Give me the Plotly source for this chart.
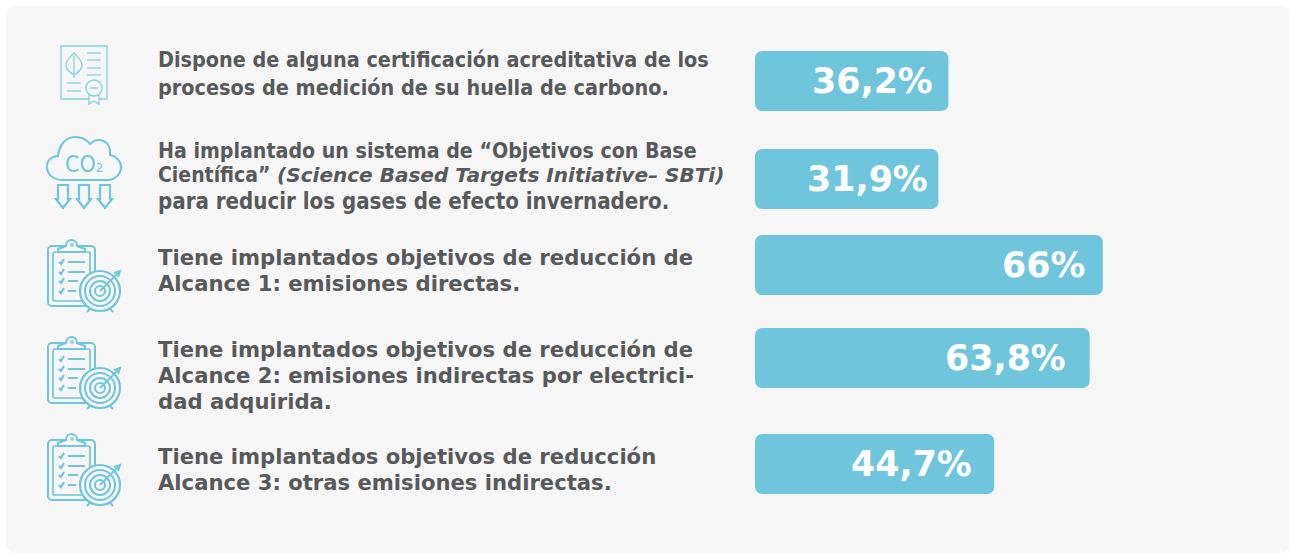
import plotly.graph_objects as go

labels = ["36,2%", "31,9%", "66%", "63,8%", "44,7%"]
bar_lengths = [36.7, 34.8, 66.0, 63.5, 45.4]
texts = [
    ["Dispone de alguna certificación acreditativa de los", "procesos de medición de su huella de carbono."],
    ["Ha implantado un sistema de “Objetivos con Base",
     "Científica” <span style='font-family:DejaVu Sans;font-size:20.05px'><i>(Science Based Targets Initiative– SBTi)</i></span>",
     "para reducir los gases de efecto invernadero."],
    ["Tiene implantados objetivos de reducción de", "Alcance 1: emisiones directas."],
    ["Tiene implantados objetivos de reducción de", "Alcance 2: emisiones indirectas por electrici-", "dad adquirida."],
    ["Tiene implantados objetivos de reducción", "Alcance 3: otras emisiones indirectas."],
]

W, H = 1289, 553
BLUE = "#6fc6dc"
PALE = "#85cfe2"
GREY = "#58595b"
PANEL = "#f6f6f6"
PX_PER_UNIT = 5.27
X0 = 755
row_y = [81, 179, 265, 358, 464]
label_right = [935, 930, 1087, 1068, 974]
text_top = [[59, 87], [150, 175, 201], [257, 283], [349, 375, 401], [456, 482]]
text_family = ["DejaVu Sans Condensed", "DejaVu Sans Condensed", "DejaVu Sans", "DejaVu Sans", "DejaVu Sans"]
text_size = [[21.4, 21.45], [21.2, 21.0, 22.1], [21.15, 21.15], [21.15, 21.15, 21.15], [21.15, 21.15]]

fig = go.Figure()
fig.add_trace(go.Bar(y=row_y, x=bar_lengths, base=[0] * len(bar_lengths), orientation="h", width=60,
                     marker=dict(color=BLUE, cornerradius=7, line_width=0), hoverinfo="skip"))

ann = []
for lab, y, r, in zip(labels, row_y, label_right):
    ann.append(dict(x=(r - X0) / PX_PER_UNIT, y=y, text=lab, xref="x", yref="y", xanchor="right",
                    yanchor="middle", showarrow=False, font=dict(family="DejaVu Sans", size=34.8, color="white", weight="bold")))
for lines, tops, fam, sizes in zip(texts, text_top, text_family, text_size):
    for line, y, size in zip(lines, tops, sizes):
        ann.append(dict(x=156 / W, y=1 - y / H, text=line, xref="paper", yref="paper", xanchor="left",
                        yanchor="middle", showarrow=False, align="left",
                        font=dict(family=fam, size=size, color=GREY, weight="bold")))

shapes = []
def P(x, y):
    return f"{x/W:.5f},{1 - y/H:.5f}"
def path(cmds, width=1.6, color=BLUE, fill=None, layer="above"):
    s = ""
    for c in cmds:
        if isinstance(c, str):
            s += c + " "
        else:
            s += P(*c) + " "
    shapes.append(dict(type="path", path=s.strip(), xref="paper", yref="paper", layer=layer,
                       line=dict(color=color, width=width), fillcolor=fill or "rgba(0,0,0,0)"))

def rounded(x0, y0, x1, y1, r):
    k = 0.45 * r
    return ["M", (x0 + r, y0), "L", (x1 - r, y0), "C", (x1 - k, y0), (x1, y0 + k), (x1, y0 + r),
            "L", (x1, y1 - r), "C", (x1, y1 - k), (x1 - k, y1), (x1 - r, y1),
            "L", (x0 + r, y1), "C", (x0 + k, y1), (x0, y1 - k), (x0, y1 - r),
            "L", (x0, y0 + r), "C", (x0, y0 + k), (x0 + k, y0), (x0 + r, y0), "Z"]

def circle(cx, cy, r, w=1.6, fill=None, color=BLUE):
    shapes.append(dict(type="circle", xref="paper", yref="paper", layer="above",
                       x0=(cx - r) / W, x1=(cx + r) / W, y0=1 - (cy + r) / H, y1=1 - (cy - r) / H,
                       line=dict(color=color, width=w), fillcolor=fill or "rgba(0,0,0,0)"))

def seg(x0, y0, x1, y1, w=1.3, color=BLUE):
    path(["M", (x0, y0), "L", (x1, y1)], width=w, color=color)

# panel
path(rounded(6, 6, 1290, 553, 9), width=0, color=PANEL, fill=PANEL, layer="below")

# certificate icon
path(["M", (89, 99), "L", (61, 99), "L", (61, 46), "L", (107, 46), "L", (107, 99), "L", (99, 99)], width=1.4, color=PALE)
path(["M", (74, 53), "C", (79, 58), (82, 61), (82, 66), "C", (81, 71), (77, 73), (74, 75),
      "C", (71, 73), (67, 71), (66, 66), "C", (66, 61), (69, 58), (74, 53), "Z"], width=1.3, color=PALE)
seg(74, 55, 74, 78, color=PALE)
for y in (53, 60, 68, 75):
    seg(87, y, 101, y, color=PALE)
for y in (83, 91):
    seg(67, y, 81, y, color=PALE)
circle(94, 88, 8, 1.4, color=PALE)
seg(90, 88, 98, 88, color=PALE)
path(["M", (89, 95), "L", (89, 104), "L", (94, 101), "L", (99, 104), "L", (99, 95)], width=1.3, color=PALE)

# CO2 icon
path(["M", (62, 180), "C", (53, 180), (47, 174), (47, 167), "C", (47, 160), (52, 156), (58, 156),
      "C", (59, 146), (65, 137), (75, 137), "C", (81, 137), (87, 140), (90, 144),
      "C", (93, 141), (96, 140), (99, 140), "C", (106, 140), (111, 146), (110, 155),
      "C", (116, 156), (121, 161), (121, 167), "C", (121, 174), (115, 180), (108, 180), "Z"], width=2)
for x in (63, 84, 105):
    path(["M", (x - 5, 185), "L", (x + 5, 185), "L", (x + 5, 199), "L", (x + 7, 199), "L", (x, 208),
          "L", (x - 7, 199), "L", (x - 5, 199), "Z"], width=2.2)
ann.append(dict(x=84 / W, y=1 - 164 / H, xref="paper", yref="paper", text="CO<span style='font-size:13px'>2</span>",
                xanchor="center", yanchor="middle", showarrow=False,
                font=dict(family="Liberation Sans Narrow, DejaVu Sans Condensed", size=23, color=BLUE)))

# clipboard + target icon
for top in (239, 336, 433):
    d = top - 239
    path(rounded(48, 246 + d, 95, 306 + d, 4), width=2, fill=PANEL)
    path(rounded(53, 252 + d, 90, 301 + d, 2), width=1.7)
    path(["M", (58, 252 + d), "L", (58, 249 + d), "L", (66, 246 + d), "C", (66, 238 + d), (77, 238 + d), (77, 246 + d),
          "L", (85, 249 + d), "L", (85, 252 + d), "Z"], width=2, fill=PANEL)
    circle(72, 245 + d, 1.2, 1.2)
    for y, xe in zip((262, 272, 281, 291), (85, 85, 78, 76)):
        y += d
        path(["M", (59, y), "L", (61, y + 2), "L", (64, y - 3)], width=2.2)
        seg(68, y, xe, y, 2)
    circle(100, 291 + d, 20, 2.2, fill=PANEL)
    circle(100, 291 + d, 15, 2)
    circle(100, 291 + d, 10, 2)
    circle(100, 291 + d, 5, 2)
    seg(100, 291 + d, 118, 273 + d, 1.8)
    path(["M", (114, 273 + d), "L", (120, 271 + d), "L", (118, 277 + d)], width=2)
    seg(90, 309 + d, 87, 312 + d, 2)
    seg(110, 309 + d, 113, 312 + d, 2)

fig.update_layout(
    width=W, height=H, margin=dict(l=0, r=0, t=0, b=0, pad=0), autosize=False,
    paper_bgcolor="white", plot_bgcolor="rgba(0,0,0,0)", showlegend=False,
    xaxis=dict(range=[-X0 / PX_PER_UNIT, (W - X0) / PX_PER_UNIT], visible=False, fixedrange=True),
    yaxis=dict(range=[H, 0], visible=False, fixedrange=True),
    annotations=ann, shapes=shapes,
)
fig.write_html("out.html", config=dict(displayModeBar=False), post_script="document.body.style.margin='0';")
